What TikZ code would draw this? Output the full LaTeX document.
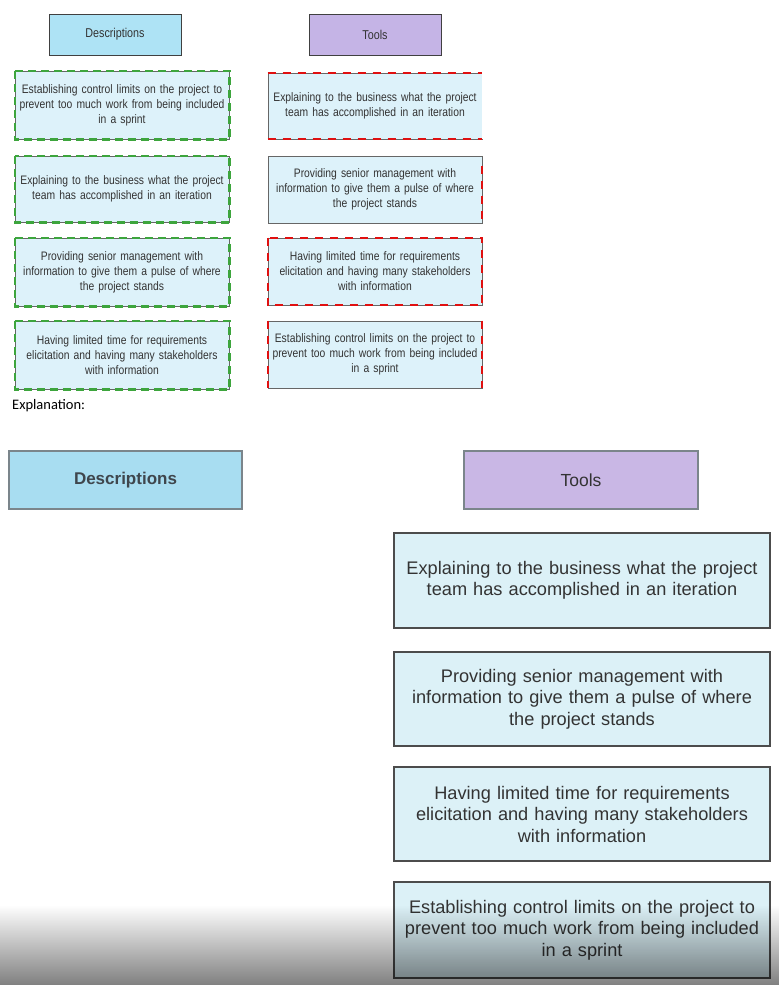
\documentclass[tikz,border=0pt]{standalone}
\usepackage{fontspec}
\setmainfont{Liberation Sans}
\newfontfamily\narrowfont[FakeStretch=0.84]{Liberation Sans}
\newfontfamily\calfont{Carlito}
\usetikzlibrary{fadings}
\definecolor{hblue}{HTML}{AEE3F5}
\definecolor{hlav}{HTML}{C5B4E6}
\definecolor{bfill}{HTML}{DDF2FA}
\definecolor{Hblue}{HTML}{A8DDF1}
\definecolor{Hlav}{HTML}{C9B7E5}
\definecolor{Bfill}{HTML}{DCF1F7}
\definecolor{gdash}{HTML}{3DA53D}
\definecolor{rdash}{HTML}{E01010}
\definecolor{txt}{HTML}{333333}
\tikzfading[name=fadedown, top color=transparent!100, bottom color=transparent!50]
\tikzset{
  tophead/.style={draw=black!75, line width=0.7pt, minimum width=132pt, minimum height=41pt, inner sep=0pt, font=\narrowfont\fontsize{12.8}{15}\selectfont, text=txt},
  smallbox/.style={draw=black!60, fill=bfill, line width=0.8pt, minimum width=214pt, inner sep=0pt, text width=212pt, align=center, font=\narrowfont\fontsize{12.3}{15}\selectfont, text=txt},
  gdashed/.style={draw=gdash, line width=2.2pt, dash pattern=on 8pt off 5pt},
  rdashed/.style={draw=rdash, line width=2pt, dash pattern=on 8pt off 7pt},
  bighead/.style={draw=black!55!cyan!30!gray, line width=1.4pt, minimum width=233pt, minimum height=58pt, inner sep=0pt, font=\fontsize{17.5}{20}\selectfont, text=black!80!cyan},
  bigbox/.style={draw=black!70, fill=Bfill, line width=1.3pt, minimum width=376pt, inner sep=0pt, text width=374pt, align=center, font=\fontsize{18.2}{21.5}\selectfont, text=txt},
}
\begin{document}
\begin{tikzpicture}[x=1pt,y=-1pt]
\useasboundingbox (0,0) rectangle (780,985);
\fill[white] (0,0) rectangle (780,985);
% ---- top section
\node[tophead, fill=hblue] (dh) at (115,34.5) {Descriptions};
\node[tophead, fill=hlav] (th) at (375,34.5) {Tools};

\node[smallbox, minimum height=68pt] (d1) at (122,105) {Establishing control limits on the project to\\ prevent too much work from being included\\ in a sprint};
\node[smallbox, minimum height=66pt] (d2) at (122,189) {Explaining to the business what the project\\ team has accomplished in an iteration};
\node[smallbox, minimum height=68pt] (d3) at (122,272) {Providing senior management with\\ information to give them a pulse of where\\ the project stands};
\node[smallbox, minimum height=68pt] (d4) at (122,355) {Having limited time for requirements\\ elicitation and having many stakeholders\\ with information};
\foreach \n in {d1,d2,d3,d4}{
  \draw[gdashed] (\n.north west) rectangle (\n.south east);
}

\node[smallbox, minimum height=66pt] (t1) at (375,106) {Explaining to the business what the project\\ team has accomplished in an iteration};
\node[smallbox, minimum height=67pt] (t2) at (375,189.5) {Providing senior management with\\ information to give them a pulse of where\\ the project stands};
\node[smallbox, minimum height=67pt] (t3) at (375,271.5) {Having limited time for requirements\\ elicitation and having many stakeholders\\ with information};
\node[smallbox, minimum height=67pt] (t4) at (375,354.5) {Establishing control limits on the project to\\ prevent too much work from being included\\ in a sprint};
\draw[draw=white, line width=1.6pt] (t1.north east) -- (t1.south east);
\draw[rdashed] (t1.north west) -- (t1.north east);
\draw[rdashed] (t1.south west) -- (t1.south east);
\draw[rdashed] (t2.north east) ++(0,10) -- (t2.south east);
\draw[rdashed] (t3.north west) rectangle (t3.south east);
\draw[rdashed] (t4.north west) -- (t4.south west);
\draw[rdashed] (t4.north east) -- (t4.south east);

\node[anchor=west, font=\calfont\fontsize{14.5}{16}\selectfont, text=black, inner sep=0pt] (expl) at (12,406) {Explanation:};

% ---- bottom section
\node[bighead, fill=Hblue, font=\bfseries\fontsize{17}{20}\selectfont] (DH) at (125.5,480) {Descriptions};
\node[bighead, fill=Hlav, minimum width=234pt, text=txt] (TH) at (581,480) {Tools};

\node[bigbox, minimum height=95pt] (T1) at (582,580.5) {Explaining to the business what the project\\ team has accomplished in an iteration};
\node[bigbox, minimum height=94pt] (T2) at (582,699) {Providing senior management with\\ information to give them a pulse of where\\ the project stands};
\node[bigbox, minimum height=94pt] (T3) at (582,814) {Having limited time for requirements\\ elicitation and having many stakeholders\\ with information};
\node[bigbox, minimum height=96pt] (T4) at (582,930) {Establishing control limits on the project to\\ prevent too much work from being included\\ in a sprint};

% bottom darkening
\fill[black, path fading=fadedown] (0,905) rectangle (780,985);
\end{tikzpicture}
\end{document}
